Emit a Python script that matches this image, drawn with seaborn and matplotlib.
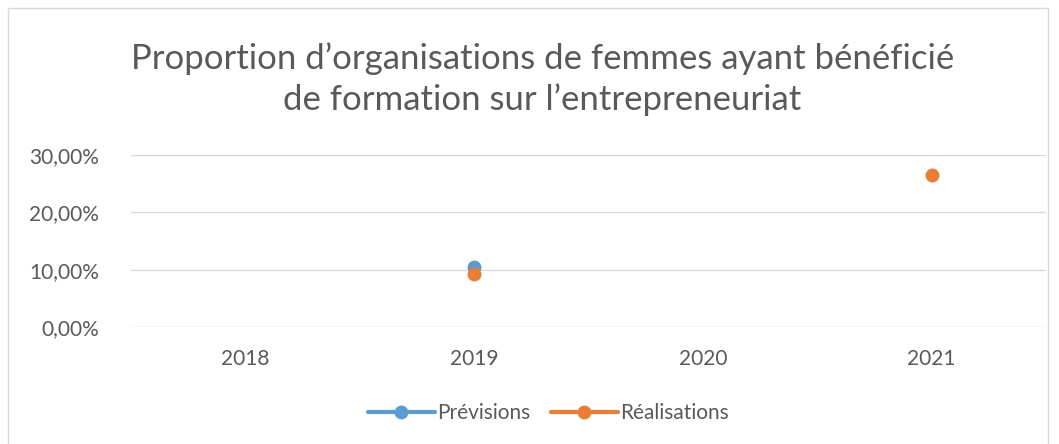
import numpy as np
import pandas as pd
import seaborn as sns
import matplotlib.pyplot as plt
from matplotlib.patches import Rectangle

years = ['2018', '2019', '2020', '2021']
previsions = [np.nan, 0.105, np.nan, np.nan]
realisations = [np.nan, 0.092, np.nan, 0.265]

# one segment id per run of consecutive values, so gaps are not bridged
def segments(vals):
    seg, out, prev = 0, [], False
    for v in vals:
        ok = not np.isnan(v)
        if ok and not prev:
            seg += 1
        out.append(seg)
        prev = ok
    return out

df = pd.DataFrame({
    'pos': list(range(len(years))) * 2,
    'valeur': previsions + realisations,
    'serie': ['Prévisions'] * 4 + ['Réalisations'] * 4,
    'seg': segments(previsions) + [s + 100 for s in segments(realisations)],
}).dropna()

sns.set_style('white')
plt.rcParams['font.family'] = ['Lato', 'DejaVu Sans']
grey = '#595959'

fig = plt.figure(figsize=(10.59, 4.44), dpi=100)
ax = fig.add_axes([131 / 1059, 1 - 327 / 444, (1046 - 131) / 1059, (327 - 155) / 444])

sns.lineplot(data=df, x='pos', y='valeur', hue='serie', units='seg', estimator=None,
             palette=['#5B9BD5', '#ED7D31'], marker='o', markersize=10,
             markeredgewidth=0, linewidth=3, ax=ax)

ax.set_xlim(-0.5, 3.5)
ax.set_ylim(0, 0.30)
ax.set_yticks([0, 0.1, 0.2, 0.3])
ax.set_yticklabels(['0,00%', '10,00%', '20,00%', '30,00%'], color=grey, fontsize=15)
ax.set_xticks(range(len(years)))
ax.set_xticklabels(years, color=grey, fontsize=15)
ax.tick_params(axis='y', length=0, pad=23)
ax.tick_params(axis='x', length=0, pad=16)
ax.yaxis.grid(True, color='#D9D9D9', linewidth=1)
ax.set_axisbelow(True)
for s in ax.spines.values():
    s.set_visible(False)
ax.set_xlabel('')
ax.set_ylabel('')

leg = ax.legend(loc='upper center', bbox_to_anchor=(0.456, -0.335), ncol=2,
                frameon=False, fontsize=15, handlelength=3.2, columnspacing=1.0,
                handletextpad=0.1)
for t in leg.get_texts():
    t.set_color(grey)

fig.text(0.512, 1 - 79 / 444,
         'Proportion d\u2019organisations de femmes ayant bénéficié\nde formation sur l\u2019entrepreneuriat',
         ha='center', va='center', fontsize=25, color=grey, linespacing=1.3)

fig.patches.append(Rectangle((8 / 1059, -0.01), (1048 - 8) / 1059, 1 - 8 / 444 + 0.01,
                             transform=fig.transFigure, fill=False,
                             edgecolor='#D9D9D9', linewidth=1))

fig.savefig('out.png', dpi=100)
